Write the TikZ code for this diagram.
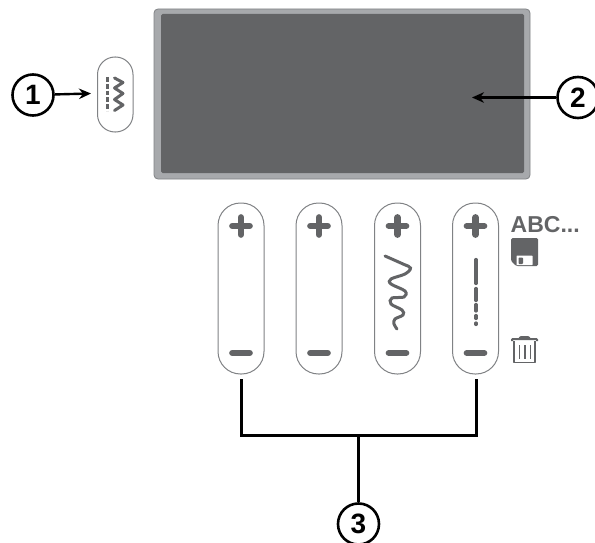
\documentclass[tikz,border=0pt]{standalone}
\usepackage{fontspec}
\setmainfont{Liberation Sans}
\usetikzlibrary{arrows.meta}
\definecolor{icon}{HTML}{636466}
\definecolor{rim}{HTML}{A7A9AC}
\definecolor{edge}{HTML}{808285}
\tikzset{
 pillbox/.style={draw=edge,line width=1pt,fill=white,rounded corners=22.5pt,minimum width=46pt,minimum height=171pt,inner sep=0pt,outer sep=0pt,anchor=north west},
 callout/.style={circle,draw=black,line width=2.6pt,fill=white,minimum size=41pt,inner sep=0pt,font=\bfseries\fontsize{28}{28}\selectfont},
 leader/.style={draw=black,line width=2.4pt},
 bracket/.style={draw=black,line width=3pt,line join=miter},
 glyph/.style={draw=icon,line width=6.3pt,line cap=round},
 thin/.style={draw=icon,line width=3.2pt,line cap=round},
}
\begin{document}
\begin{tikzpicture}[x=1pt,y=-1pt]
\useasboundingbox (0,0) rectangle (595,543);
% screen
\node[draw=edge,line width=0.8pt,fill=rim,rounded corners=4pt,minimum width=376pt,minimum height=170pt,inner sep=0pt,outer sep=0pt,anchor=north west] (screen) at (154,9) {};
\node[fill=icon,rounded corners=1.5pt,minimum width=363pt,minimum height=159pt,inner sep=0pt,outer sep=0pt,anchor=north west] (display) at (161,14) {};
% small pill
\node[draw=edge,line width=1pt,fill=white,rounded corners=17.5pt,minimum width=35.5pt,minimum height=75pt,inner sep=0pt,outer sep=0pt,anchor=north west] (mode) at (97.5,57) {};
\draw[icon,line width=3pt,dash pattern=on 4.8pt off 2pt] (107.5,77) -- (107.5,111);
\draw[icon,line width=3pt,line join=round,line cap=round] (114.5,78) -- (123,82.5) -- (114.5,88) -- (123,93.5) -- (114.5,99.5) -- (123,105) -- (114.5,110.5);
% value pills
\node[pillbox] (p1) at (218,203) {};
\node[pillbox] (p2) at (296,203) {};
\node[pillbox] (p3) at (374.5,203) {};
\node[pillbox] (p4) at (452.5,203) {};
% plus and minus
\foreach \n in {p1,p2,p3,p4}{
 \draw[glyph] ([xshift=-8.7pt,yshift=-23pt]\n.north) -- ([xshift=8.7pt,yshift=-23pt]\n.north);
 \draw[glyph] ([xshift=0pt,yshift=-14.3pt]\n.north) -- ([xshift=0pt,yshift=-31.7pt]\n.north);
 \draw[glyph] ([xshift=-8.7pt,yshift=21pt]\n.south) -- ([xshift=8.7pt,yshift=21pt]\n.south);
}
% stitch wave
\draw[thin,line width=3pt] plot[smooth,tension=0.6] coordinates {(385,256) (403,264) (410.5,268) (405,274) (391,279) (391,284) (405,291) (404,297) (392,298) (391,304) (402,310) (403,315) (395,319) (394,324) (397,329)};
% stitch line
\draw[thin] (476,259.5) -- (476,283.5);
\draw[thin] (476,288.5) -- (476,300.5);
\draw[thin] (476,304.5) -- (476,311);
\draw[thin] (476,315.5) -- (476,318.5);
\draw[thin] (476,323) -- (476,324.5);
% ABC
\node[anchor=west,inner sep=0pt,font=\bfseries\fontsize{23}{23}\selectfont,text=icon] (abc) at (510.5,224.5) {ABC...};
% save icon
\fill[icon,rounded corners=1.5pt] (511,238) -- (538,238) -- (538,266) -- (516,266) -- (511,261) -- cycle;
\fill[white,rounded corners=0.6pt] (516.5,255.5) rectangle (532.5,265.2);
\fill[icon,rounded corners=0.8pt] (518.5,257.5) rectangle (523,264);
% trash icon
\draw[icon,line width=1.8pt,line join=round] (513.8,341) -- (513.8,362.5) -- (535.2,362.5) -- (535.2,341);
\draw[icon,line width=2pt,rounded corners=0.8pt] (512,341) -- (512,339) -- (537,339) -- (537,341);
\fill[icon,rounded corners=1pt] (518,339) -- (520,336) -- (529,336) -- (531,339) -- cycle;
\foreach \x in {519.3,524.8,530.3}{\draw[icon,line width=1.5pt] (\x,345) -- (\x,359);}
% callouts
\node[callout] (n1) at (33,95) {1};
\node[callout] (n2) at (578,97.5) {2};
\node[callout] (n3) at (358.5,524) {3};
\coordinate (t1) at (91,93.5);
\coordinate (t2) at (472,97.5);
\draw[leader,-{Stealth[length=12pt,width=10.5pt]}] (n1) -- (t1);
\draw[leader,-{Stealth[length=12pt,width=10.5pt]}] (n2) -- (t2);
\coordinate (b1) at (241,379);
\coordinate (b2) at (476,379);
\coordinate (bl) at (241,435);
\coordinate (br) at (476,435);
\coordinate (bm) at (358.5,435);
\draw[bracket] (b1) -- (bl) -- (br) -- (b2);
\draw[bracket] (bm) -- (n3);
\end{tikzpicture}
\end{document}
